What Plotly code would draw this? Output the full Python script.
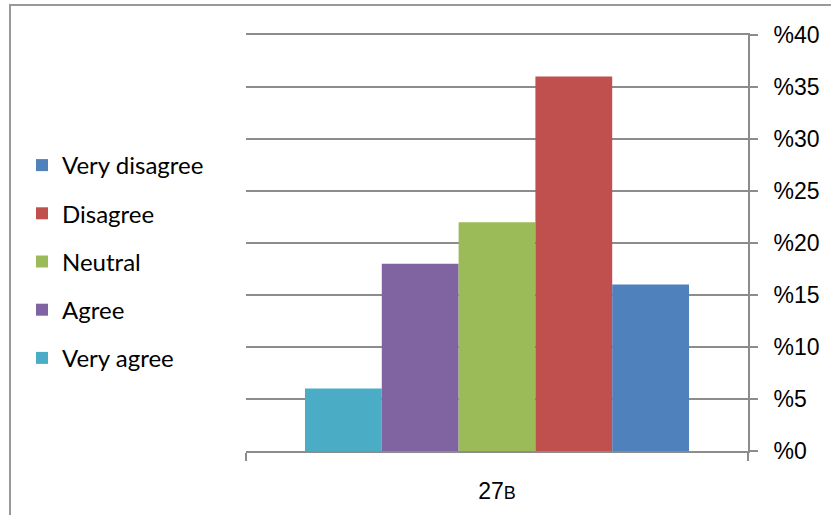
import plotly.graph_objects as go

category = ["27B"]
series_names = ["Very agree", "Agree", "Neutral", "Disagree", "Very disagree"]
series_values = [6, 18, 22, 36, 16]
colors = ["#4BACC6", "#8064A2", "#9BBB59", "#C0504D", "#4F81BD"]
y_tickvals = [0, 5, 10, 15, 20, 25, 30, 35, 40]
y_ticktext = ["%" + str(v) for v in y_tickvals]

fig = go.Figure()
n = len(series_names)
for i, (name, val, col) in enumerate(zip(series_names, series_values, colors)):
    fig.add_trace(go.Bar(x=category, y=[val], name=name, legendgroup=name,
                         legendrank=1000 + (n - i),
                         marker=dict(color=col, line=dict(width=0))))

W, H = 831, 515
L, T = 246, 35
pw, ph = 502, 416
R = W - L - pw
B = H - T - ph

def px(x):
    return (x - L) / pw

def py(y):
    return (T + ph - y) / ph

fig.update_layout(
    width=W, height=H,
    margin=dict(l=L, r=R, t=T, b=B),
    paper_bgcolor="white", plot_bgcolor="white",
    barmode="group", bargap=0.235, bargroupgap=0,
    showlegend=True,
    legend=dict(traceorder="grouped", x=px(22), xanchor="left",
                y=py(143), yanchor="top",
                font=dict(family="Lato, sans-serif", size=24, color="#000"),
                tracegroupgap=14, itemsizing="constant",
                bgcolor="rgba(0,0,0,0)"),
    xaxis=dict(type="category", tickvals=category,
               ticktext=["27<span style='font-size:18px'>B</span>"],
               showline=True, mirror=True, linecolor="#8c8c8c", linewidth=2,
               ticks="outside", tickson="boundaries", ticklen=8, tickcolor="#8c8c8c", tickwidth=2,
               ticklabelstandoff=18,
               tickfont=dict(family="Liberation Sans", size=23, color="#000"),
               showgrid=False),
    yaxis=dict(side="right", range=[0, 40], tickvals=y_tickvals, ticktext=y_ticktext,
               showline=True, linecolor="#8c8c8c", linewidth=2,
               ticks="outside", ticklen=8, tickcolor="#8c8c8c", tickwidth=2,
               ticklabelstandoff=11,
               showgrid=True, gridcolor="#8c8c8c", gridwidth=2,
               zeroline=False,
               tickfont=dict(family="Liberation Sans", size=23, color="#000")),
    shapes=[dict(type="rect", xref="paper", yref="paper",
                 x0=px(10), x1=px(W + 30),
                 y0=py(H + 30), y1=py(5),
                 line=dict(color="#999999", width=2), fillcolor="rgba(0,0,0,0)", layer="below")],
)

fig.write_html("out.html", config={"displayModeBar": False},
               post_script="document.body.style.margin='0';document.body.style.padding='0';")
